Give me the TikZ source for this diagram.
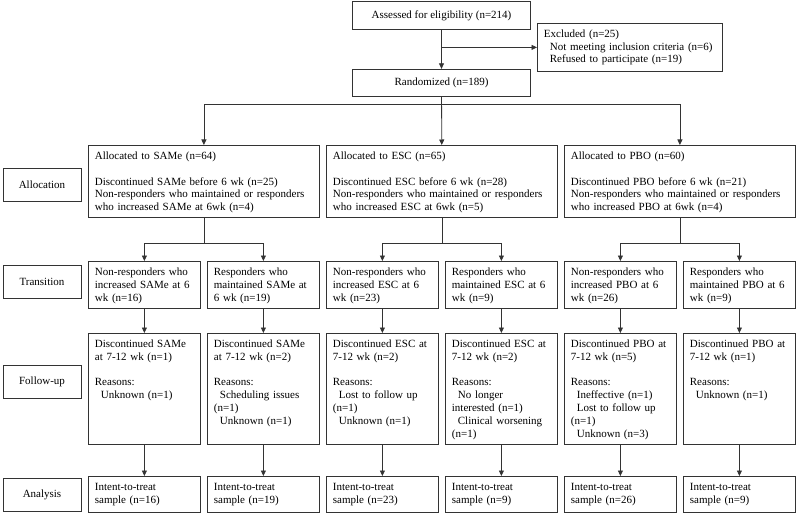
\documentclass[tikz,border=0pt]{standalone}
\usepackage{fontspec}
\setmainfont{Liberation Serif}
\usetikzlibrary{arrows.meta}
\newcommand{\ind}{\hspace*{6pt}}

\begin{document}
\begin{tikzpicture}[
    x=1pt, y=-1pt,
    line width=0.8pt,
    every node/.style={font=\fontsize{11}{12.8}\selectfont},
    topbox/.style={rectangle, draw=black!80, minimum width=178pt, minimum height=27.5pt, inner sep=0pt},
    cell/.style={rectangle, draw=black!80, anchor=north west, inner xsep=6.5pt, inner ysep=6pt, text height=8pt, align=left},
    alloc/.style={cell, text width=218pt, text depth=52pt},
    trans/.style={cell, text width=99pt, text depth=27pt},
    follow/.style={cell, text width=99pt, text depth=91pt},
    itt/.style={cell, text width=99pt, text depth=16pt},
    phase/.style={rectangle, draw=black!80, minimum width=78pt, minimum height=33pt, inner sep=0pt},
    arrow/.style={draw=black!80, -{Triangle[length=5.5pt,width=5pt]}}
]
    \useasboundingbox (0,0) rectangle (800,516);

    % Enrolment
    \node [topbox] (assess) at (441.5,15.5) {Assessed for eligibility (n=214)};
    \node [cell, text width=172pt, text depth=28pt] (excl) at (537,23) {Excluded (n=25)\\\ind Not meeting inclusion criteria (n=6)\\\ind Refused to participate (n=19)};
    \node [topbox] (rand) at (441.5,83) {Randomized (n=189)};

    % Phase labels on the left
    \node [phase] (pAlloc) at (42,185) {Allocation};
    \node [phase] (pTrans) at (42,282) {Transition};
    \node [phase] (pFollow) at (42,382) {Follow-up};
    \node [phase] (pAnal) at (42,495) {Analysis};

    % Allocation
    \node [alloc] (aS) at (88,145) {Allocated to SAMe (n=64)\\[12.8pt]Discontinued SAMe before 6 wk (n=25)\\Non-responders who maintained or responders\\who increased SAMe at 6wk (n=4)};
    \node [alloc] (aE) at (326,145) {Allocated to ESC (n=65)\\[12.8pt]Discontinued ESC before 6 wk (n=28)\\Non-responders who maintained or responders\\who increased ESC at 6wk (n=5)};
    \node [alloc] (aP) at (564,145) {Allocated to PBO (n=60)\\[12.8pt]Discontinued PBO before 6 wk (n=21)\\Non-responders who maintained or responders\\who increased PBO at 6wk (n=4)};

    % Transition
    \node [trans] (tS1) at (88,261) {Non-responders who\\increased SAMe at 6\\wk (n=16)};
    \node [trans] (tS2) at (207,261) {Responders who\\maintained SAMe at\\6 wk (n=19)};
    \node [trans] (tE1) at (326,261) {Non-responders who\\increased ESC at 6\\wk (n=23)};
    \node [trans] (tE2) at (445,261) {Responders who\\maintained ESC at 6\\wk (n=9)};
    \node [trans] (tP1) at (564,261) {Non-responders who\\increased PBO at 6\\wk (n=26)};
    \node [trans] (tP2) at (683,261) {Responders who\\maintained PBO at 6\\wk (n=9)};

    % Follow-up
    \node [follow] (fS1) at (88,333) {Discontinued SAMe\\at 7-12 wk (n=1)\\[12.8pt]Reasons:\\\ind Unknown (n=1)};
    \node [follow] (fS2) at (207,333) {Discontinued SAMe\\at 7-12 wk (n=2)\\[12.8pt]Reasons:\\\ind Scheduling issues\\(n=1)\\\ind Unknown (n=1)};
    \node [follow] (fE1) at (326,333) {Discontinued ESC at\\7-12 wk (n=2)\\[12.8pt]Reasons:\\\ind Lost to follow up\\(n=1)\\\ind Unknown (n=1)};
    \node [follow] (fE2) at (445,333) {Discontinued ESC at\\7-12 wk (n=2)\\[12.8pt]Reasons:\\\ind No longer\\interested (n=1)\\\ind Clinical worsening\\(n=1)};
    \node [follow] (fP1) at (564,333) {Discontinued PBO at\\7-12 wk (n=5)\\[12.8pt]Reasons:\\\ind Ineffective (n=1)\\\ind Lost to follow up\\(n=1)\\\ind Unknown (n=3)};
    \node [follow] (fP2) at (683,333) {Discontinued PBO at\\7-12 wk (n=1)\\[12.8pt]Reasons:\\\ind Unknown (n=1)};

    % Analysis
    \node [itt] (iS1) at (88,476) {Intent-to-treat\\sample (n=16)};
    \node [itt] (iS2) at (207,476) {Intent-to-treat\\sample (n=19)};
    \node [itt] (iE1) at (326,476) {Intent-to-treat\\sample (n=23)};
    \node [itt] (iE2) at (445,476) {Intent-to-treat\\sample (n=9)};
    \node [itt] (iP1) at (564,476) {Intent-to-treat\\sample (n=26)};
    \node [itt] (iP2) at (683,476) {Intent-to-treat\\sample (n=9)};

    % Enrolment arrows
    \draw [arrow] (assess) -- (rand);
    \draw [arrow] (assess.south |- excl.west) -- (excl.west);

    % Randomisation to the three arms
    \draw [arrow] (rand) -- (aE);
    \draw [arrow] (rand.south) -- ++(0,7) -| (aS.north);
    \draw [arrow] (rand.south) -- ++(0,7) -| (aP.north);

    % Split of each arm at 6 wk
    \draw [arrow] (aS.south) -- ++(0,26) -| (tS1.north);
    \draw [arrow] (aS.south) -- ++(0,26) -| (tS2.north);
    \draw [arrow] (aE.south) -- ++(0,26) -| (tE1.north);
    \draw [arrow] (aE.south) -- ++(0,26) -| (tE2.north);
    \draw [arrow] (aP.south) -- ++(0,26) -| (tP1.north);
    \draw [arrow] (aP.south) -- ++(0,26) -| (tP2.north);

    % Transition to follow-up
    \draw [arrow] (tS1) -- (fS1);
    \draw [arrow] (tS2) -- (fS2);
    \draw [arrow] (tE1) -- (fE1);
    \draw [arrow] (tE2) -- (fE2);
    \draw [arrow] (tP1) -- (fP1);
    \draw [arrow] (tP2) -- (fP2);

    % Follow-up to analysis
    \draw [arrow] (fS1) -- (iS1);
    \draw [arrow] (fS2) -- (iS2);
    \draw [arrow] (fE1) -- (iE1);
    \draw [arrow] (fE2) -- (iE2);
    \draw [arrow] (fP1) -- (iP1);
    \draw [arrow] (fP2) -- (iP2);
\end{tikzpicture}
\end{document}
